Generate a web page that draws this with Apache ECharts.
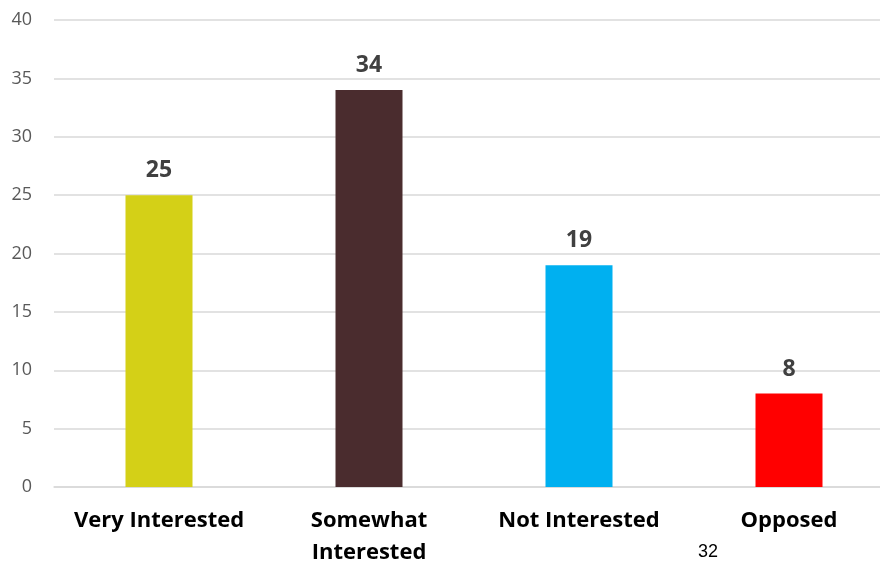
<!DOCTYPE html>
<html><head><meta charset="utf-8">
<script src="https://cdn.jsdelivr.net/npm/echarts@6/dist/echarts.min.js"></script>
<style>html,body{margin:0;padding:0;background:#fff;}#c{width:880px;height:565px;}</style>
</head><body><div id="c"></div>
<script>
const categories = ['Very Interested', 'Somewhat\nInterested', 'Not Interested', 'Opposed'];
const values = [25, 34, 19, 8];
const colors = ['#D4D017', '#4A2C2E', '#00B0F0', '#FF0000'];
const pageNumber = '32';

const chart = echarts.init(document.getElementById('c'));
chart.setOption({
  animation: false,
  grid: { left: 54, top: 20, width: 840, height: 467, containLabel: false, outerBoundsMode: 'none' },
  xAxis: {
    type: 'category', data: categories,
    axisLine: { show: true, lineStyle: { color: '#D9D9D9', width: 1.5 } },
    axisTick: { show: false },
    axisLabel: { color: '#000', fontFamily: 'Open Sans', fontWeight: 'bold', fontSize: 22, lineHeight: 32, margin: 18, interval: 0 }
  },
  yAxis: {
    type: 'value', min: 0, max: 40, interval: 5,
    axisLine: { show: false }, axisTick: { show: false },
    splitLine: { lineStyle: { color: '#D9D9D9', width: 1.5 } },
    axisLabel: { color: '#595959', fontFamily: 'Open Sans', fontSize: 18, margin: 22 }
  },
  graphic: [{ type: 'text', left: 698, top: 543, style: { text: pageNumber, font: '18px "Liberation Sans"', fill: '#000' } }],
  series: [{
    type: 'bar', barWidth: 67,
    data: values.map((v, i) => ({ value: v, itemStyle: { color: colors[i] } })),
    label: { show: true, position: 'top', distance: 13, color: '#404040', fontFamily: 'Open Sans', fontWeight: 'bold', fontSize: 23 }
  }]
});
</script></body></html>
